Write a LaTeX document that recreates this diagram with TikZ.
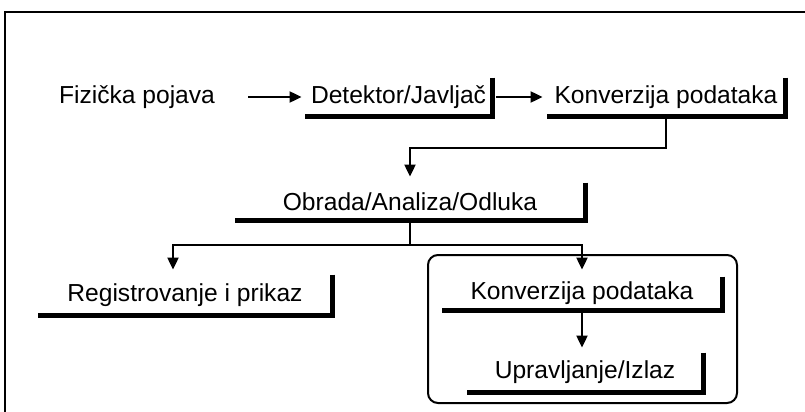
\documentclass[tikz,border=0pt]{standalone}
\usepackage{fontspec}
\setmainfont{Liberation Sans}
\usetikzlibrary{arrows.meta}
\begin{document}
\begin{tikzpicture}[x=0.5pt,y=-0.5pt,
  every node/.style={font=\fontsize{12.3}{14}\selectfont, inner sep=0pt},
  box/.style 2 args={minimum width=#1pt, minimum height=#2pt},
  shadowline/.style={line width=2.5pt, line join=miter},
  conn/.style={line width=1pt},
  arr/.style={line width=1pt, -{Triangle[length=6pt,width=5.5pt]}},
  frame/.style={line width=1.2pt},
  group/.style={line width=1pt, rounded corners=5pt}]
\useasboundingbox (0,0) rectangle (805,412);
% outer frame (top and left edges)
\draw[frame] (5,412) -- (5,12) -- (805,12);
% nodes
\node[box={111}{20}] (f) at (137,97) {Fizička pojava};
\node[box={93.5}{19}] (d) at (398.5,97) {Detektor/Javljač};
\node[box={119}{19}] (k1) at (666,97) {Konverzija podataka};
\node[box={175}{18.5}] (o) at (410,201.5) {Obrada/Analiza/Odluka};
\node[box={147}{20}] (r) at (185,295) {Registrovanje i prikaz};
\node[box={140}{16.5}] (k2) at (582,293.5) {Konverzija podataka};
\node[box={118}{19.5}] (u) at (585,372.5) {Upravljanje/Izlaz};
% shadows
\foreach \n in {d,k1,o,r,k2,u}
  \draw[shadowline] (\n.north east) -- (\n.south east) -- (\n.south west);
% group
\draw[group] (428,255) rectangle (737,403);
% connectors
\draw[arr, shorten >=1.5pt] (f.east) -- (d.west);
\draw[arr, shorten <=2pt, shorten >=2pt] (d.east) -- (k1.west);
\draw[arr, shorten >=3pt] (k1.south) -- ++(0,32) -| (o.north);
\coordinate (br) at (410,245);
\draw[conn] (o.south) -- (br);
\draw[arr, shorten >=2.5pt] (br) -| ([xshift=-6pt]r.north);
\draw[arr, shorten >=3.5pt] (br) -| (k2.north);
\draw[arr, shorten >=2.5pt] (k2.south) -- (k2.south |- u.north);
\end{tikzpicture}
\end{document}
